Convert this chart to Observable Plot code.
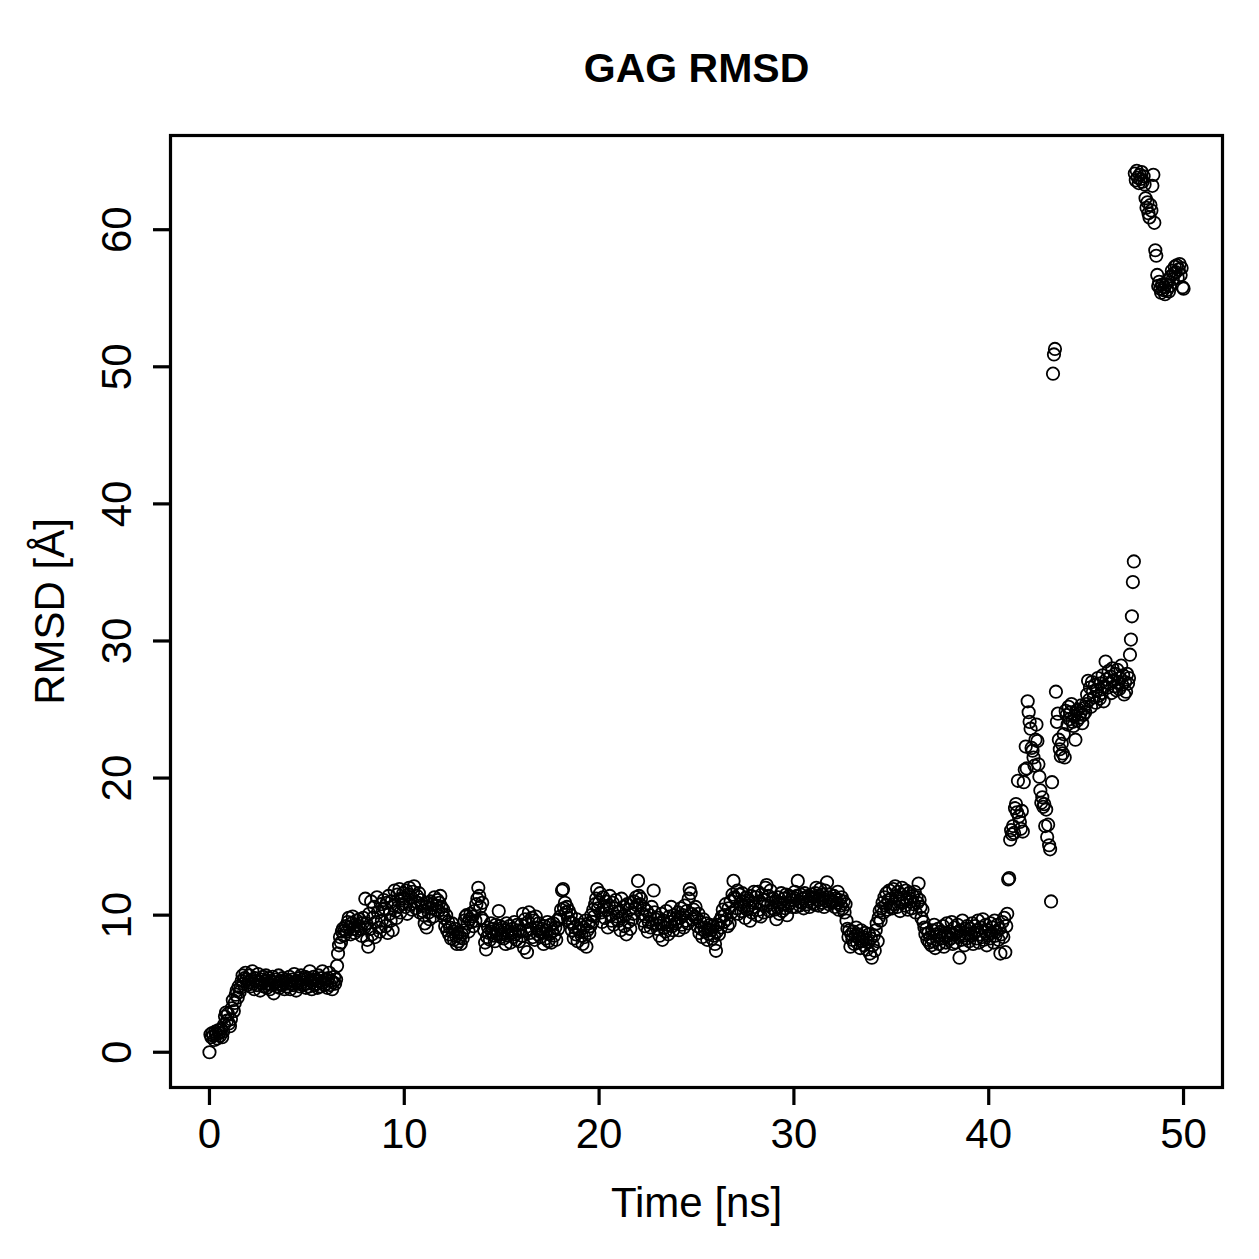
<!DOCTYPE html>
<html>
<head>
<meta charset="utf-8">
<script src="https://cdn.jsdelivr.net/npm/d3@7"></script>
<script src="https://cdn.jsdelivr.net/npm/@observablehq/plot@0.6"></script>
<style>
  html, body { margin: 0; padding: 0; background: #ffffff; }
  #chart { width: 1259px; height: 1259px; }
</style>
</head>
<body>
<div id="chart"></div>
<script>
// ---- Data ----
const chartTitle = "GAG RMSD";
const xLabel = "Time [ns]";
const yLabel = "RMSD [Å]";
const timeStart = 0;      // ns
const timeStep = 0.05;    // ns between frames
const xTicks = [0, 10, 20, 30, 40, 50];
const yTicks = [0, 10, 20, 30, 40, 50, 60];

// RMSD values in Å, one line per nanosecond (20 frames each)
const rmsd = [
  0.0,1.3,1.1,1.4,1.2,0.9,1.5,1.3,1.0,1.6,1.4,1.2,1.7,1.1,1.5,2.0,2.6,2.9,2.3,2.8,
  2.1,1.9,2.4,3.2,3.8,3.0,3.6,4.2,4.5,4.0,4.8,4.4,4.7,5.2,5.6,5.0,5.4,5.8,5.3,4.9,
  5.1,5.6,4.8,5.3,5.9,5.0,4.6,5.4,5.2,4.9,5.7,5.1,4.5,5.3,5.0,5.5,4.8,5.2,5.6,4.7,
  5.0,5.4,4.6,5.2,4.9,5.5,4.3,5.1,5.3,4.8,5.0,5.6,4.7,5.2,4.9,5.4,5.1,4.6,5.3,5.0,
  4.8,5.2,5.5,4.6,5.0,5.3,4.9,5.7,5.1,4.5,5.2,5.0,5.4,4.8,5.6,5.1,4.9,5.3,5.5,4.7,
  5.0,5.4,4.8,5.9,5.2,4.6,5.1,5.5,4.9,5.3,5.0,4.7,5.6,5.2,4.8,5.4,5.9,5.1,4.9,5.3,
  5.0,4.7,5.4,5.8,4.9,5.2,4.6,5.1,5.5,5.0,5.3,6.3,7.2,7.8,8.4,8.0,8.8,9.0,8.5,8.9,
  9.2,8.8,9.5,9.8,9.1,8.6,9.4,9.9,9.0,8.7,9.3,9.6,8.9,9.2,9.7,9.0,8.5,9.4,9.8,9.1,
  11.2,9.4,8.2,7.7,10.1,9.0,11.0,8.6,9.8,10.6,8.4,9.5,11.3,10.2,9.1,8.8,10.8,9.6,10.4,11.1,
  10.5,9.2,10.9,8.7,11.4,10.1,9.6,11.0,8.9,10.7,11.8,10.3,9.8,11.5,10.6,11.9,10.2,11.2,10.8,11.6,
  11.2,10.6,11.8,10.1,11.5,12.0,10.8,11.3,10.4,11.7,12.1,11.0,10.5,11.4,10.9,11.6,10.2,11.1,10.7,10.3,
  10.0,9.4,10.6,9.1,10.9,10.2,9.7,11.0,10.5,10.8,9.9,11.3,10.4,10.7,11.1,10.3,10.9,11.4,10.6,10.1,
  10.4,9.8,9.2,10.0,8.9,9.5,8.6,9.1,8.3,9.4,8.8,8.2,9.0,8.5,7.9,8.7,8.1,8.4,7.9,8.6,
  8.3,8.9,9.6,9.9,10.0,9.4,8.8,9.7,10.1,9.5,9.9,9.2,10.3,9.6,10.8,11.2,12.0,11.4,10.6,9.8,
  10.9,9.6,8.9,8.0,7.5,8.4,9.1,8.7,8.2,9.4,8.8,9.0,8.5,8.1,9.3,8.6,8.9,10.3,9.2,8.4,
  8.6,9.1,8.3,8.9,7.9,9.4,8.5,8.8,9.2,8.0,8.7,9.0,8.4,9.5,8.6,8.2,9.3,8.9,8.1,8.8,
  9.3,8.5,10.1,7.6,9.7,8.9,7.3,9.5,10.2,8.7,9.0,9.8,8.4,9.6,8.2,9.9,9.1,8.6,9.4,8.8,
  8.4,9.0,8.7,7.9,9.2,8.3,8.9,9.5,8.1,8.6,9.3,8.0,8.8,9.4,8.5,9.1,8.2,9.6,9.0,9.7,
  9.9,10.4,11.8,11.9,10.5,10.9,10.2,10.6,9.8,10.3,9.5,10.0,8.9,9.4,8.3,9.1,8.6,9.7,8.1,9.0,
  8.8,9.3,8.5,7.9,9.1,8.4,9.6,7.7,8.9,9.4,8.7,9.2,10.0,9.5,10.4,9.9,10.8,11.2,11.9,10.5,
  10.9,11.6,10.2,9.5,11.3,10.6,9.8,11.0,10.4,9.1,10.7,11.4,10.0,9.6,10.9,9.3,10.5,11.1,9.9,10.2,
  9.6,10.3,8.9,11.2,9.9,10.6,9.2,10.0,8.6,10.8,9.5,10.4,9.0,10.9,9.7,10.1,11.0,10.5,11.3,10.7,
  12.5,11.4,10.8,11.2,10.1,9.6,10.5,9.2,9.9,10.3,8.8,9.5,10.0,9.1,10.6,9.4,11.8,10.2,9.7,9.3,
  9.0,9.8,8.5,9.4,10.1,8.2,9.6,9.1,8.8,10.3,9.3,8.6,9.9,9.5,10.6,9.2,8.9,10.0,9.7,9.4,
  9.5,10.2,8.9,9.8,10.5,9.3,10.0,9.1,10.7,9.6,10.3,9.4,11.2,11.9,11.6,10.1,9.7,10.4,9.9,10.6,
  9.8,9.2,10.1,8.7,9.5,9.0,8.4,9.7,9.1,8.8,9.4,8.2,9.0,8.6,9.3,8.9,8.3,9.2,8.5,7.9,
  7.4,8.8,9.3,8.6,9.6,9.1,9.9,10.4,9.5,10.0,10.8,9.7,9.2,10.5,9.4,11.0,10.2,11.5,12.5,11.3,
  11.2,10.5,11.8,10.1,11.5,10.8,10.3,11.6,11.0,10.6,9.8,11.3,10.4,11.1,10.7,9.6,11.4,10.2,10.9,11.7,
  10.6,11.3,10.0,11.7,10.4,11.0,9.9,11.5,10.8,10.2,11.1,12.0,12.2,10.7,11.4,10.3,11.8,10.9,10.5,11.2,
  10.4,11.0,9.7,10.6,11.3,10.1,10.9,11.6,10.3,10.8,11.2,10.5,11.5,10.0,10.7,11.4,10.9,11.1,10.6,11.3,
  11.1,11.7,10.6,11.4,12.5,11.0,10.7,11.5,10.9,11.2,10.5,11.6,11.3,10.8,11.0,11.4,10.6,11.2,10.9,11.5,
  11.3,10.8,11.6,12.0,11.1,10.7,11.4,11.9,10.9,11.5,11.2,10.6,11.8,11.0,12.4,11.3,10.8,11.5,11.1,10.9,
  11.0,11.4,10.6,11.2,10.9,11.7,10.4,11.1,10.7,11.3,10.5,11.0,10.2,10.8,9.6,9.0,8.4,8.9,7.7,8.6,
  8.2,8.8,7.9,8.5,9.1,8.0,8.6,8.3,7.6,8.9,8.1,8.4,7.8,8.7,8.2,7.5,8.0,8.6,7.2,8.3,
  6.9,7.8,8.5,7.4,8.9,9.4,8.1,9.8,10.3,9.6,10.5,10.9,10.2,11.3,10.7,11.6,10.4,11.1,11.8,10.6,
  11.2,10.5,11.9,10.8,12.1,11.4,10.6,11.7,11.0,10.3,11.5,12.0,10.9,11.3,10.7,11.8,11.1,10.4,11.6,11.2,
  11.0,10.5,11.4,10.8,11.7,10.2,11.3,10.9,12.3,11.1,10.6,9.8,10.4,9.5,9.1,8.6,9.0,8.2,8.7,8.0,
  8.4,7.8,8.9,8.1,9.3,7.6,8.6,8.2,9.0,7.9,8.5,8.8,8.3,9.2,7.7,8.7,8.0,9.4,8.5,8.2,
  8.8,8.3,9.5,7.9,8.6,9.1,8.0,8.7,9.3,8.4,6.9,8.9,8.2,9.6,8.5,7.8,9.0,8.3,9.2,8.6,
  8.1,9.0,8.5,9.4,7.9,8.7,9.2,8.3,8.9,9.6,8.0,8.6,9.1,8.4,9.7,8.2,8.8,9.3,7.8,8.5,
  8.9,8.3,9.4,8.7,9.1,8.0,9.6,8.5,8.8,9.3,8.2,9.0,7.2,8.6,9.5,8.4,9.8,7.3,9.2,10.1,
  12.6,12.7,15.5,16.2,15.9,16.5,16.0,17.8,18.1,17.5,19.8,17.2,16.8,16.3,17.6,16.1,19.7,20.6,22.3,20.7,
  25.6,24.8,24.1,23.6,22.2,22.0,21.5,20.9,22.8,23.9,22.7,21.0,20.1,19.1,18.2,18.6,17.9,18.1,16.5,17.7,
  15.7,16.6,15.1,14.8,11.0,19.7,49.5,50.9,51.3,26.3,24.1,24.7,22.8,22.1,21.6,22.5,21.8,23.2,21.5,24.9,
  24.6,23.9,25.2,24.3,24.8,25.4,24.1,23.8,24.5,22.8,24.9,24.2,25.0,24.4,24.7,25.3,24.0,24.6,25.1,24.8,
  25.4,26.1,27.1,25.7,26.6,25.2,27.0,26.3,25.9,26.8,25.5,26.4,27.3,26.0,25.8,26.9,26.2,27.5,25.6,26.7,
  28.5,27.2,26.6,27.8,26.9,27.4,26.2,28.0,27.1,26.7,27.6,26.4,27.9,27.0,26.5,27.3,28.2,26.8,27.5,26.1,
  27.0,26.3,27.6,26.9,27.3,29.0,30.1,31.8,34.3,35.8,64.1,63.6,64.3,63.8,63.4,64.0,63.7,64.2,63.5,63.9,
  63.3,62.3,61.6,62.0,61.2,60.9,61.8,61.4,63.2,64.0,60.5,58.5,58.1,56.7,55.9,56.2,55.7,55.4,56.0,55.6,
  55.8,55.3,56.0,55.6,56.3,55.5,55.9,56.6,57.0,56.4,56.8,57.3,56.9,57.4,56.5,57.1,57.5,56.7,57.2,55.8,
  55.7
];

// Table for Plot: frame time (regular sampling grid) and RMSD
const data = rmsd.map((v, i) => ({time: timeStart + i * timeStep, rmsd: v}));

// R-style 4% padded axis ranges
const xMin = 0, xMax = 50;
const yMin = 0, yMax = d3.max(rmsd);
const xPad = (xMax - xMin) * 0.04;
const yPad = (yMax - yMin) * 0.04;

const font = "'Liberation Sans', Arial, Helvetica, sans-serif";

const chart = Plot.plot({
  width: 1259,
  height: 1259,
  marginTop: 135,
  marginBottom: 172,
  marginLeft: 170,
  marginRight: 37,
  style: {fontFamily: font, background: "#ffffff", color: "#000000", overflow: "visible"},
  x: {domain: [xMin - xPad, xMax + xPad], label: null},
  y: {domain: [yMin - yPad, yMax + yPad], label: null},
  marks: [
    Plot.dot(data, {x: "time", y: "rmsd", r: 6.2, stroke: "#000000", strokeWidth: 1.8, fill: "none"}),
    Plot.frame({stroke: "#000000", strokeWidth: 3.2}),
    Plot.axisX({ticks: xTicks, tickSize: 18, tickPadding: 13, strokeWidth: 3.2, fontSize: 42, label: null, tickFormat: d => String(d)}),
    Plot.axisY({ticks: yTicks, tickSize: 17, strokeWidth: 3.2, label: null, tickFormat: () => ""}),
    Plot.text(yTicks, {y: d => d, frameAnchor: "left", text: d => String(d), rotate: -90, dx: -53, fontSize: 42, textAnchor: "middle", lineAnchor: "middle"}),
    Plot.text([chartTitle], {frameAnchor: "top", dy: -67, fontSize: 41, fontWeight: "bold", lineAnchor: "middle", textAnchor: "middle"}),
    Plot.text([xLabel], {frameAnchor: "bottom", dy: 116, fontSize: 42, lineAnchor: "middle", textAnchor: "middle"}),
    Plot.text([yLabel], {frameAnchor: "left", dx: -120, rotate: -90, fontSize: 42, lineAnchor: "middle", textAnchor: "middle"})
  ]
});
document.getElementById("chart").appendChild(chart);
</script>
</body>
</html>
